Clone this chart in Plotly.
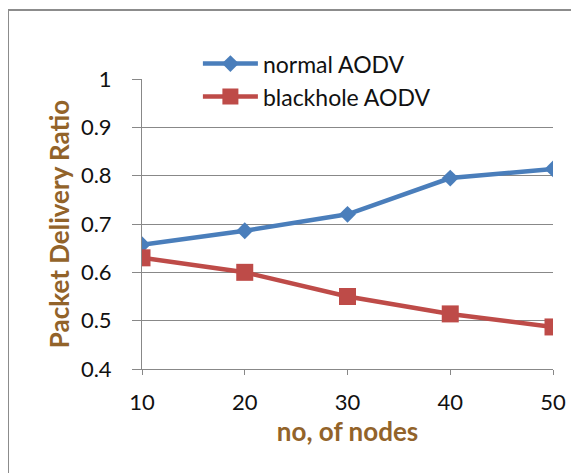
import plotly.graph_objects as go

nodes = [10, 20, 30, 40, 50]
normal_aodv = [0.657, 0.686, 0.720, 0.795, 0.814]
blackhole_aodv = [0.630, 0.600, 0.550, 0.514, 0.487]
y_ticks = [0.4, 0.5, 0.6, 0.7, 0.8, 0.9, 1.0]
y_ticktext = ["0.4", "0.5", "0.6", "0.7", "0.8", "0.9", "1"]

FONT = "Lato"
TITLE_COLOR = "#92632a"

fig = go.Figure()
fig.add_trace(go.Scatter(
    x=nodes, y=normal_aodv, name="normal AODV", mode="lines+markers",
    line=dict(color="#4a7ebb", width=4.5),
    marker=dict(symbol="diamond", size=13, color="#4a7ebb"),
))
fig.add_trace(go.Scatter(
    x=nodes, y=blackhole_aodv, name="blackhole AODV", mode="lines+markers",
    line=dict(color="#be4b48", width=4.5),
    marker=dict(symbol="square", size=17, color="#be4b48"),
))

fig.update_layout(
    width=579, height=473,
    margin=dict(l=134, r=34, t=71, b=112),
    paper_bgcolor="white", plot_bgcolor="white",
    font=dict(family=FONT, size=22, color="#111111"),
    showlegend=True,
    legend=dict(
        x=0.136, y=1.127, xanchor="left", yanchor="top",
        bgcolor="rgba(0,0,0,0)", font=dict(size=23, color="#111111"),
        itemwidth=55, tracegroupgap=0,
    ),
    xaxis=dict(
        range=[10, 50], tickvals=nodes, showgrid=False, zeroline=False,
        showline=True, linecolor="#888888", linewidth=1,
        ticks="outside", ticklen=5, tickcolor="#888888",
        ticklabelstandoff=9,
        title=dict(text="no, of nodes", font=dict(size=26, color=TITLE_COLOR, weight="bold"), standoff=2),
    ),
    yaxis=dict(
        range=[0.4, 1.0], tickvals=y_ticks, ticktext=y_ticktext,
        showgrid=True, gridcolor="#888888", gridwidth=1, zeroline=False,
        showline=True, linecolor="#888888", linewidth=1,
        ticks="outside", ticklen=9, tickcolor="#888888",
        ticklabelstandoff=16,
        title=dict(text="Packet Delivery Ratio", font=dict(size=26, color=TITLE_COLOR, weight="bold"), standoff=3),
    ),
    shapes=[dict(
        type="rect", xref="paper", yref="paper",
        x0=-0.326, y0=-0.5, x1=1.1, y1=1.238,
        line=dict(color="#8c8c8c", width=2), fillcolor="rgba(0,0,0,0)", layer="below",
    )],
)

fig.write_html("out.html")
